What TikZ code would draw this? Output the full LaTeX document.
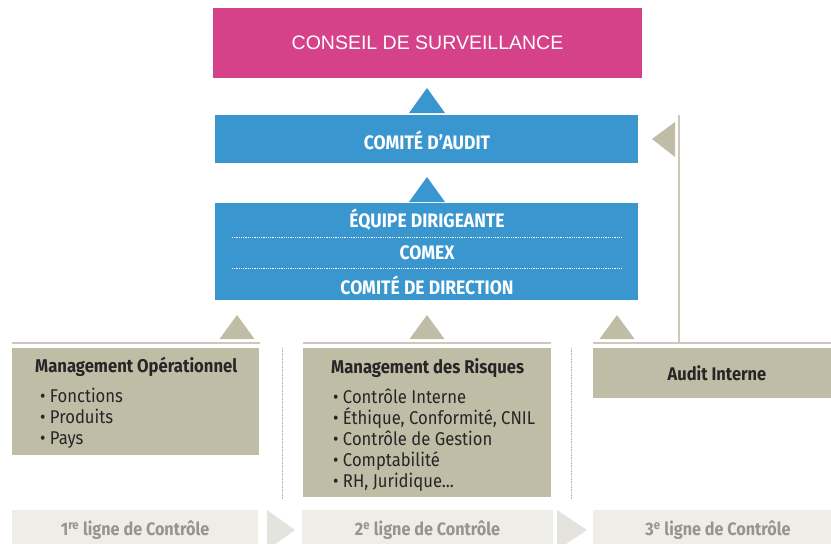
\documentclass[tikz,border=0pt]{standalone}
\usepackage{fontspec}
\setmainfont{Fira Sans}[FakeStretch=0.9]
\newfontfamily\conseilfont{Liberation Sans}
\usepackage{tikz}
\usetikzlibrary{positioning}
\definecolor{conseilpink}{RGB}{213, 66, 138}
\definecolor{comiteblue}{RGB}{58, 150, 206}
\definecolor{khaki}{RGB}{192, 189, 167}
\definecolor{khakiline}{RGB}{204, 201, 186}
\definecolor{lignefill}{RGB}{238, 237, 232}
\definecolor{chevronfill}{RGB}{229, 227, 221}
\definecolor{lignetext}{RGB}{150, 148, 140}
\definecolor{darktext}{RGB}{38, 38, 38}

\begin{document}
\begin{tikzpicture}[x=1pt, y=-1pt,
    box/.style={rectangle, inner sep=0pt, outer sep=0pt},
    pinkbox/.style={box, fill=conseilpink, text=white,
        font=\conseilfont\fontsize{19.5}{23}\selectfont},
    bluebox/.style={box, fill=comiteblue, minimum width=423pt},
    bluetext/.style={text=white, inner sep=0pt, font=\bfseries\fontsize{19.5}{22}\selectfont},
    dotline/.style={white, line width=0.9pt, dash pattern=on 0.9pt off 0.9pt},
    khakibox/.style={box, fill=khaki},
    listtext/.style={inner sep=0pt, align=left, text=darktext,
        font=\fontsize{18.5}{21}\selectfont},
    lignebox/.style={box, fill=lignefill, minimum height=40pt, text=lignetext,
        font=\bfseries\fontsize{18}{21}\selectfont},
    sepline/.style={khakiline, line width=1.8pt},
    vsep/.style={gray!60, line width=0.7pt, dash pattern=on 0.8pt off 0.8pt}
]
    \clip (0,0) rectangle (831,544);

    % Top of the hierarchy
    \node[pinkbox, minimum width=429pt, minimum height=70pt] (conseil) at (427.5,43) {CONSEIL DE SURVEILLANCE};
    \node[bluebox, minimum height=48pt] (audit) at (426.5,139) {};
    \node[bluetext] (audittext) at (427,140) {COMITÉ D'AUDIT};

    % Executive block, three stacked labels
    \node[bluebox, minimum height=97pt] (direction) at (426.5,251.5) {};
    \node[bluetext] (equipe) at (427,220) {ÉQUIPE DIRIGEANTE};
    \node[bluetext] (comex) at (427,253) {COMEX};
    \node[bluetext] (codir) at (427,285) {COMITÉ DE DIRECTION};
    \draw[dotline] (232,237) -- (622,237);
    \draw[dotline] (232,268) -- (622,268);

    % Blue arrow heads
    \foreach \y in {113,202}
        \fill[comiteblue] (409,\y) -- (427,\y-25) -- (445,\y) -- cycle;

    % Three lines of control
    \node[khakibox, minimum width=247pt, minimum height=107pt] (mgmtop) at (135.5,401.5) {};
    \node[listtext, right=23pt of mgmtop.west, yshift=-1.5pt] (mgmtoplist) {%
        \textbf{Management Opérationnel}\\[9pt]
        \hspace{5pt}• Fonctions\\
        \hspace{5pt}• Produits\\
        \hspace{5pt}• Pays};

    \node[khakibox, minimum width=248pt, minimum height=149pt] (mgmtrisk) at (427,422.5) {};
    \node[listtext, right=28pt of mgmtrisk.west, yshift=-2.5pt] (mgmtrisklist) {%
        \textbf{Management des Risques}\\[9pt]
        \hspace{2pt}• Contrôle Interne\\
        \hspace{2pt}• Éthique, Conformité, CNIL\\
        \hspace{2pt}• Contrôle de Gestion\\
        \hspace{2pt}• Comptabilité\\
        \hspace{2pt}• RH, Juridique...};

    \node[khakibox, minimum width=248pt, minimum height=50pt, text=darktext,
        font=\bfseries\fontsize{18.3}{21}\selectfont] (auditint) at (717,373) {Audit Interne};

    % Rules above the boxes and khaki arrow heads
    \draw[sepline] (12,343) -- (260,343);
    \draw[sepline] (303,343) -- (551,343);
    \draw[sepline] (593,343) -- (831,343);
    \foreach \x in {237,427,617}
        \fill[khaki] (\x-17.5,339) -- (\x,315) -- (\x+17.5,339) -- cycle;

    % Internal audit reports straight to the audit committee
    \draw[khakiline, line width=2pt] (679,343) -- (679,115);
    \fill[khaki] (652,139) -- (675,122) -- (675,157) -- cycle;

    % Dotted separators between the columns
    \draw[vsep] (282,348) -- (282,500);
    \draw[vsep] (571,348) -- (571,500);

    % Bottom strip
    \node[lignebox, minimum width=246pt] (ligne1) at (135,530) {1\textsuperscript{re} ligne de Contrôle};
    \node[lignebox, minimum width=251pt] (ligne2) at (427.5,530) {2\textsuperscript{e} ligne de Contrôle};
    \node[lignebox, minimum width=250pt] (ligne3) at (718,530) {3\textsuperscript{e} ligne de Contrôle};
    \fill[chevronfill] (267,510) -- (295,530) -- (267,550) -- cycle;
    \fill[chevronfill] (557,510) -- (587,530) -- (557,550) -- cycle;
\end{tikzpicture}
\end{document}
